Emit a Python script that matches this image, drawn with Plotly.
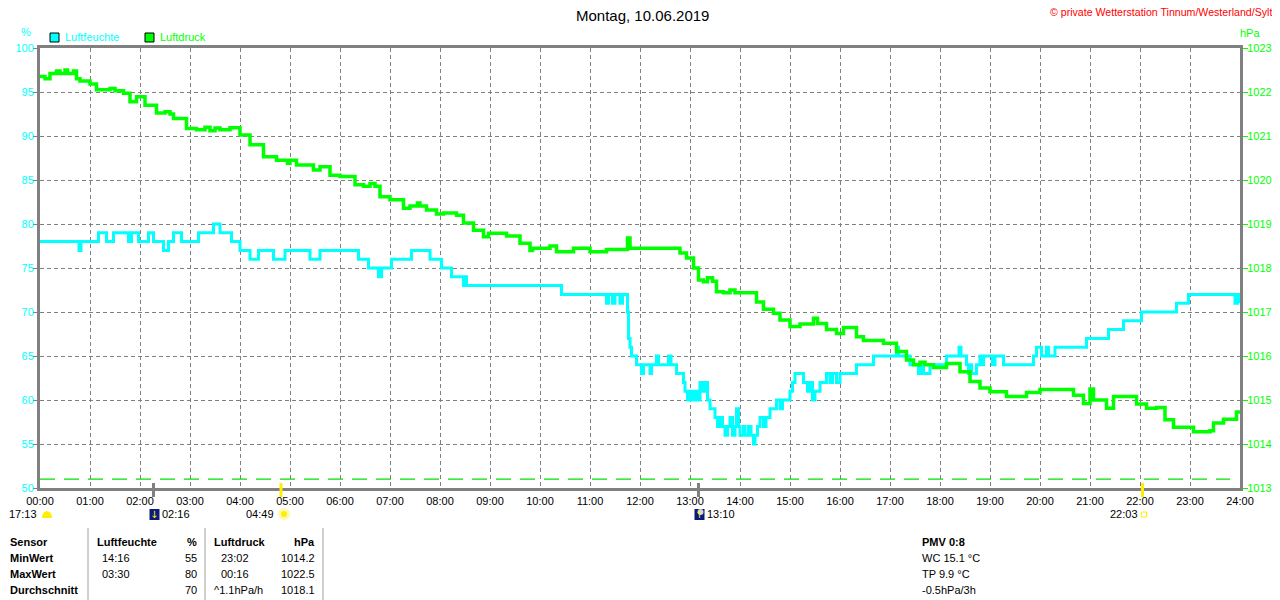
"""
Tagesgrafik Luftfeuchte / Luftdruck, Wetterstation Tinnum (10.06.2019).
Writes out.html.
"""

import plotly.graph_objects as go

# --- data -------------------------------------------------------------------
hours = list(range(25))
hour_labels = [f"{h:02d}:00" for h in hours]

hum_ticks = list(range(50, 101, 5))
press_ticks = list(range(1013, 1024))

# relative humidity (%), change points (hour, value)
hum_t = [
    0.0, 0.78, 0.82, 1.17, 1.33, 1.47, 1.77, 1.83, 1.97, 2.17, 2.27, 2.47, 2.57,
    2.67, 2.83, 3.17, 3.47, 3.6, 3.83, 4.0, 4.2, 4.37, 4.67, 4.9, 5.4, 5.6, 6.37,
    6.57, 6.77, 6.83, 7.03, 7.43, 7.8, 8.03, 8.23, 8.47, 8.5, 8.53, 10.43, 11.33,
    11.37, 11.45, 11.5, 11.6, 11.65, 11.75, 11.77, 11.8, 11.83, 11.93, 12.03,
    12.07, 12.2, 12.23, 12.33, 12.37, 12.57, 12.62, 12.73, 12.87, 12.9, 12.95,
    13.0, 13.05, 13.1, 13.15, 13.2, 13.25, 13.3, 13.35, 13.4, 13.5, 13.55, 13.6,
    13.65, 13.7, 13.75, 13.8, 13.85, 13.9, 13.93, 13.97, 14.0, 14.07, 14.1,
    14.17, 14.22, 14.27, 14.3, 14.35, 14.4, 14.47, 14.52, 14.6, 14.73, 14.8,
    14.85, 15.0, 15.05, 15.1, 15.27, 15.35, 15.4, 15.45, 15.5, 15.6, 15.73, 15.8,
    15.85, 15.93, 16.0, 16.33, 16.67, 17.13, 17.17, 17.4, 17.57, 17.62, 17.67,
    17.8, 18.13, 18.38, 18.42, 18.53, 18.57, 18.6, 18.63, 18.73, 18.8, 18.83,
    18.87, 19.05, 19.1, 19.27, 19.87, 19.93, 20.03, 20.13, 20.17, 20.3, 20.93,
    21.37, 21.67, 22.03, 22.73, 22.97, 23.9, 23.95, 24.0,
]
hum_v = [
    78, 77, 78, 79, 78, 79, 78, 79, 78, 79, 78, 77, 78,
    79, 78, 79, 80, 79, 78, 77, 76, 77, 76, 77, 76, 77, 76,
    75, 74, 75, 76, 77, 76, 75, 74, 73, 74, 73, 72, 71,
    72, 71, 72, 71, 72, 70, 67, 66, 65, 64, 63,
    64, 63, 64, 65, 64, 65, 64, 63, 62, 61, 60,
    61, 60, 61, 60, 62, 61, 62, 60, 59, 58, 57, 58,
    57, 56, 57, 58, 56, 57, 59, 57, 56, 57, 56,
    57, 56, 55, 56, 57, 58, 57, 58, 59, 60, 59,
    60, 61, 62, 63, 62, 61, 62, 60, 61, 62, 63, 62,
    63, 62, 63, 64, 65, 66, 65, 64, 63, 64, 63,
    64, 65, 66, 65, 64, 63, 64, 63, 64, 65, 64,
    65, 64, 65, 64, 65, 66, 65, 66, 65, 66, 67,
    68, 69, 70, 71, 72, 71, 72, 71,
]

# air pressure (hPa), change points (hour, value)
press_t = [
    0.0, 0.1, 0.2, 0.33, 0.4, 0.5, 0.55, 0.67, 0.73, 0.8, 1.0, 1.13, 1.4, 1.5,
    1.67, 1.8, 1.93, 2.1, 2.33, 2.5, 2.6, 2.67, 2.93, 3.13, 3.3, 3.4, 3.5, 3.6,
    3.8, 4.0, 4.2, 4.47, 4.73, 4.95, 5.0, 5.13, 5.47, 5.6, 5.8, 6.0, 6.3, 6.47,
    6.6, 6.7, 6.8, 7.0, 7.27, 7.4, 7.55, 7.6, 7.73, 7.93, 8.07, 8.33, 8.47, 8.67,
    8.87, 8.97, 9.33, 9.6, 9.8, 9.85, 10.2, 10.33, 10.67, 11.0, 11.33, 11.75,
    11.8, 12.8, 12.93, 13.07, 13.17, 13.27, 13.35, 13.45, 13.53, 13.67, 13.8,
    13.9, 14.33, 14.47, 14.67, 14.8, 15.0, 15.2, 15.47, 15.55, 15.73, 15.93,
    16.07, 16.33, 16.47, 16.87, 17.13, 17.33, 17.47, 17.6, 17.7, 17.87, 18.13,
    18.4, 18.6, 18.8, 19.0, 19.33, 19.73, 20.0, 20.67, 20.87, 21.0, 21.07, 21.33,
    21.47, 21.93, 22.13, 22.33, 22.5, 22.67, 23.07, 23.4, 23.47, 23.67, 23.93,
    24.0,
]
press_v = [
    1022.35, 1022.3, 1022.42, 1022.48, 1022.42, 1022.5, 1022.42, 1022.48,
    1022.3, 1022.25, 1022.18, 1022.05, 1022.08, 1022.03, 1021.97, 1021.78,
    1021.89, 1021.7, 1021.52, 1021.55, 1021.5, 1021.4, 1021.17, 1021.14,
    1021.2, 1021.12, 1021.18, 1021.14, 1021.19, 1021.02, 1020.8, 1020.53,
    1020.45, 1020.38, 1020.45, 1020.34, 1020.23, 1020.3, 1020.11, 1020.08,
    1019.89, 1019.86, 1019.92, 1019.86, 1019.62, 1019.55, 1019.36, 1019.41,
    1019.48, 1019.41, 1019.32, 1019.23, 1019.25, 1019.2, 1019.02, 1018.86,
    1018.71, 1018.79, 1018.73, 1018.56, 1018.4, 1018.45, 1018.5, 1018.37,
    1018.45, 1018.37, 1018.42, 1018.68, 1018.45, 1018.34, 1018.23, 1018.0,
    1017.73, 1017.69, 1017.78, 1017.7, 1017.46, 1017.44, 1017.5, 1017.44,
    1017.23, 1017.06, 1016.97, 1016.82, 1016.67, 1016.73, 1016.86, 1016.74,
    1016.6, 1016.51, 1016.65, 1016.44, 1016.35, 1016.29, 1016.1, 1015.91,
    1015.8, 1015.86, 1015.8, 1015.74, 1015.83, 1015.64, 1015.42, 1015.27,
    1015.19, 1015.08, 1015.17, 1015.24, 1015.11, 1014.92, 1015.25, 1015.0,
    1014.81, 1015.08, 1014.91, 1014.81, 1014.83, 1014.55, 1014.38, 1014.28,
    1014.3, 1014.48, 1014.56, 1014.73, 1014.73,
]
press_ref = 1013.2

# sun / moon events below the time axis
event_labels = ["17:13", "02:16", "04:49", "13:10", "22:03"]
event_hours = [0.0, 2.27, 4.82, 13.17, 22.05]
event_kinds = ["daylen", "moonset", "sunrise", "moonrise", "sunset"]

# statistics table
stat_rows = ["Sensor", "MinWert", "MaxWert", "Durchschnitt"]
hum_time = ["Luftfeuchte", "14:16", "03:30", ""]
hum_val = ["%", "55", "80", "70"]
press_time = ["Luftdruck", "23:02", "00:16", "^1.1hPa/h"]
press_val = ["hPa", "1014.2", "1022.5", "1018.1"]
extra_lines = ["PMV 0:8", "WC 15.1 °C", "TP 9.9 °C", "-0.5hPa/3h"]

# --- styling ----------------------------------------------------------------
CYAN = "#00ffff"
GREEN = "#00ff00"
GREY = "#808080"
YELLOW = "#ffee00"
FONT = "Liberation Sans, Arial, sans-serif"

# the page body adds 8px around the figure, so lay out in page pixels minus 8
OFF = 8
W, H = 1280, 600
L, T = 40 - OFF, 48 - OFF
R, B = W - (1240 - OFF), H - (488 - OFF)
PH = 440
PW = 1200


def py(p):
    """page pixel row -> paper y"""
    return (488 - p) / PH


def px(p):
    """page pixel column -> paper x"""
    return (p - 40) / PW


def text(t, x, y, xa="center", color="black", size=11, **kw):
    return dict(text=t, x=px(x), y=py(y), xref="paper", yref="paper", xanchor=xa,
                yanchor="middle", showarrow=False, font=dict(size=size, color=color), **kw)


fig = go.Figure()

fig.add_trace(go.Scatter(
    x=hum_t, y=hum_v, mode="lines", line=dict(color=CYAN, width=3, shape="hv"),
    name="Luftfeuchte", yaxis="y",
))
fig.add_trace(go.Scatter(
    x=press_t, y=press_v, mode="lines", line=dict(color=GREEN, width=3.5, shape="hv"),
    name="Luftdruck", yaxis="y2",
))
fig.add_trace(go.Scatter(
    x=[0.0, 23.8], y=[press_ref, press_ref], mode="lines",
    line=dict(color="#00e000", width=1.3, dash="15px,9px"), yaxis="y2", hoverinfo="skip",
))

fig.update_layout(
    width=W, height=H,
    margin=dict(l=L, r=R, t=T, b=B, autoexpand=False),
    paper_bgcolor="white", plot_bgcolor="white",
    showlegend=False,
    font=dict(family=FONT, size=11, color="black"),
    xaxis=dict(
        range=[0, 24], tickvals=hours, ticktext=hour_labels, ticks="",
        showgrid=True, gridcolor=GREY, griddash="4px,3px", gridwidth=1,
        showline=True, linecolor=GREY, linewidth=3, mirror=True,
        zeroline=False, tickfont=dict(size=11, color="black"),
        ticklabelstandoff=1, automargin=False,
    ),
    yaxis=dict(
        range=[50, 100], tickvals=hum_ticks, ticks="outside", ticklen=4,
        tickcolor=GREY, tickwidth=1,
        showgrid=True, gridcolor=GREY, griddash="4px,3px", gridwidth=1,
        showline=True, linecolor=GREY, linewidth=3, zeroline=False,
        tickfont=dict(size=11, color=CYAN), automargin=False, ticklabelstandoff=-3,
    ),
    yaxis2=dict(
        range=[1013, 1023], tickvals=press_ticks, overlaying="y", side="right",
        ticks="outside", ticklen=5, tickcolor=GREEN, tickwidth=1,
        showgrid=False, showline=True, linecolor=GREY, linewidth=3, zeroline=False,
        tickfont=dict(size=11, color=GREEN), automargin=False, ticklabelstandoff=-3,
    ),
)

ann = []
shapes = []

# title, copyright, axis units
ann.append(text("Montag, 10.06.2019", 642, 15, size=15))
ann.append(text("© private Wetterstation Tinnum/Westerland/Sylt", 1274, 12, xa="right",
                color="red", size=10.6))
ann.append(text("%", 26, 32, color=CYAN))
ann.append(text("hPa", 1250, 33, color=GREEN))

# legend boxes
for x0, col, name in [(50, CYAN, "Luftfeuchte"), (145, GREEN, "Luftdruck")]:
    shapes.append(dict(type="rect", xref="paper", yref="paper", x0=px(x0), x1=px(x0 + 9),
                       y0=py(42), y1=py(33), fillcolor=col, line=dict(color="black", width=1)))
    ann.append(text(name, x0 + 13, 37.5, xa="left", color=col))

# sun / moon events
y_icon = py(514)
for lab, hr, kind in zip(event_labels, event_hours, event_kinds):
    base = dict(x=hr, y=y_icon, xref="x", yref="paper", yanchor="middle", showarrow=False)
    icon = dict(xref="x", yref="paper", xsizemode="pixel", ysizemode="pixel",
                xanchor=hr, yanchor=y_icon)
    if kind != "daylen":
        tick_col = YELLOW if kind.startswith("sun") else GREY
        shapes.append(dict(type="line", xref="x", yref="paper", x0=hr, x1=hr,
                           y0=py(497), y1=py(483), line=dict(color=tick_col, width=3)))
    if kind == "daylen":
        shapes.append(dict(type="path", path="M 2,-4 C 2,5 12,5 12,-4 Z",
                           fillcolor=YELLOW, line=dict(width=0), **icon))
        ann.append(dict(text=lab, xanchor="right", xshift=-1,
                        font=dict(size=11, color="black"), **base))
    elif kind.startswith("moon"):
        shapes.append(dict(type="rect", x0=-4, x1=6, y0=-6, y1=5, fillcolor="#0a1a7a",
                           line=dict(width=0), **icon))
        shapes.append(dict(type="circle", x0=-1, x1=5, y0=-1, y1=5, fillcolor="white",
                           line=dict(width=0), opacity=0.8 if kind == "moonrise" else 0.0,
                           **icon))
        arrow = "↓" if kind == "moonset" else "↑"
        ann.append(dict(text=arrow, xanchor="center", xshift=0,
                        font=dict(size=10, color=YELLOW, family="DejaVu Sans"), **base))
        ann.append(dict(text=lab, xanchor="left", xshift=6,
                        font=dict(size=11, color="black"), **base))
    else:
        if kind == "sunrise":
            shapes.append(dict(type="circle", x0=-3, x1=9, y0=-6, y1=6, fillcolor="#fff8b0",
                               line=dict(width=0), **icon))
            shapes.append(dict(type="circle", x0=0, x1=6, y0=-3, y1=3, fillcolor=YELLOW,
                               line=dict(width=0), **icon))
            shift = -5
        else:
            shapes.append(dict(type="rect", x0=-1, x1=4, y0=-3, y1=2,
                               line=dict(color=YELLOW, width=1), **icon))
            shift = -3
        ann.append(dict(text=lab, xanchor="right", xshift=shift,
                        font=dict(size=11, color="black"), **base))

# statistics table
row_y = [542, 558, 574, 590]
for i, yy in enumerate(row_y):
    bold = i == 0
    cells = [
        (8, "left", stat_rows[i], True),
        (95 if i == 0 else 100, "left", hum_time[i], bold),
        (199, "right", hum_val[i], bold),
        (212 if i in (0, 3) else 219, "left", press_time[i], bold),
        (317, "right", press_val[i], bold),
        (920, "left", extra_lines[i], bold),
    ]
    for xx, anchor, txt, b in cells:
        if not txt:
            continue
        ann.append(text(f"<b>{txt}</b>" if b else txt, xx, yy, xa=anchor))

for xx in [88, 205, 323]:
    shapes.append(dict(type="line", xref="paper", yref="paper", x0=px(xx), x1=px(xx),
                       y0=py(528), y1=py(600), line=dict(color="#a0a0a0", width=1)))
shapes.append(dict(type="line", xref="paper", yref="paper", x0=px(1278), x1=px(1278),
                   y0=py(527), y1=py(600), line=dict(color="#a0a0a0", width=1)))

fig.update_layout(annotations=ann, shapes=shapes)

fig.write_html("out.html")
